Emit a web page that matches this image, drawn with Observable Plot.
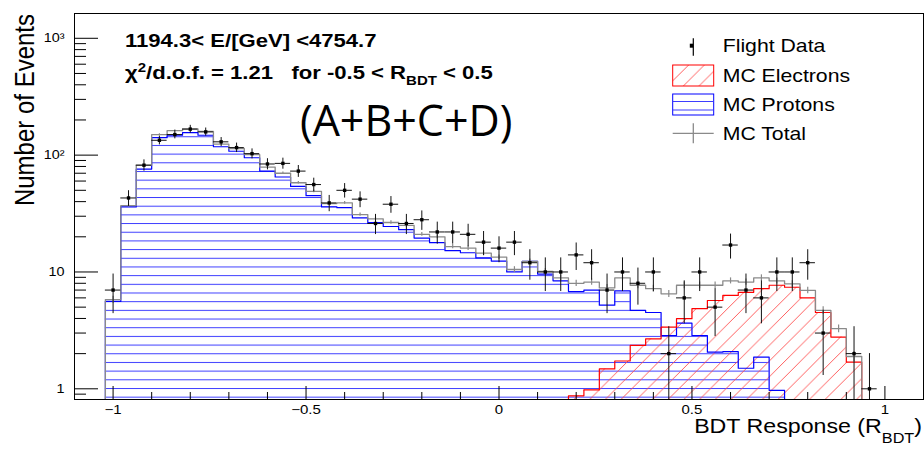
<!DOCTYPE html>
<html>
<head>
<meta charset="utf-8">
<script src="https://cdn.jsdelivr.net/npm/d3@7"></script>
<script src="https://cdn.jsdelivr.net/npm/@observablehq/plot@0.6"></script>
<style>
  body { margin: 0; background: #fff; }
  #chart { position: relative; width: 924px; height: 450px; }
</style>
</head>
<body>
<svg width="0" height="0" style="position:absolute">
  <defs>
    <pattern id="hatchBlue" patternUnits="userSpaceOnUse" width="20" height="8.68" patternTransform="translate(0,6.06)">
      <line x1="0" y1="0.5" x2="20" y2="0.5" stroke="#3d3dff" stroke-width="1"/>
    </pattern>
    <pattern id="hatchRed" patternUnits="userSpaceOnUse" width="15.7" height="15.7">
      <path d="M0,15.7 L15.7,0 M-2,2 L2,-2 M13.7,17.7 L17.7,13.7" stroke="#ff4d4d" stroke-width="0.9" fill="none"/>
    </pattern>
  </defs>
</svg>
<div id="chart"></div>
<script>
// ---------------- data ----------------
const binCenters = [-1.00,-0.96,-0.92,-0.88,-0.84,-0.80,-0.76,-0.72,-0.68,-0.64,
                    -0.60,-0.56,-0.52,-0.48,-0.44,-0.40,-0.36,-0.32,-0.28,-0.24,
                    -0.20,-0.16,-0.12,-0.08,-0.04, 0.00, 0.04, 0.08, 0.12, 0.16,
                     0.20, 0.24, 0.28, 0.32, 0.36, 0.40, 0.44, 0.48, 0.52, 0.56,
                     0.60, 0.64, 0.68, 0.72, 0.76, 0.80, 0.84, 0.88, 0.92, 0.96];
const binWidth = 0.04;

const mcProtons = [5.6,36,76,141,148,156,148,118,108,95,
                   73,65,54,45,36,35.5,29,26.5,24.5,23,
                   19.5,17.8,15.2,14.6,13.2,12.4,10.0,12.3,9.6,8.4,
                   6.8,7.0,5.2,6.9,4.7,4.5,2.86,3.65,2.86,2.06,
                   2.08,1.5,1.87,0.97,0.3,0.3,0.3,0.3,0.3,0];

const mcElectrons = [0.3,0.3,0.3,0.3,0.3,0.3,0.3,0.3,0.3,0.3,
                     0.3,0.3,0.3,0.3,0.3,0.3,0.3,0.3,0.3,0.3,
                     0.3,0.3,0.3,0.3,0.3,0.3,0.3,0.3,0.3,0.3,
                     0.87,0.98,1.48,1.73,2.35,2.68,3.37,3.98,4.85,5.7,
                     6.3,6.7,7.2,7.7,7.4,6.0,4.5,2.77,1.69,0];

const mcTotal = [5.8,37,82,150,162,168,160,124,114,101,
                 79,70,58,49,38.5,39,31,28.5,26.5,25,
                 21,20,16.5,16,14.5,13.4,10.5,12.3,10.1,8.9,
                 8.0,8.2,7.3,8.9,7.7,7.2,6.5,7.7,7.7,7.7,
                 8.4,8.2,8.9,8.4,7.9,6.95,4.7,3.27,1.89,0];

const mcTotalErr = [0.4,1.0,1.6,2.4,2.5,2.6,2.5,2.2,2.1,2.0,
                    1.7,1.6,1.4,1.3,1.1,1.1,1.0,0.9,0.9,0.9,
                    0.8,0.8,0.7,0.7,0.7,0.6,0.6,0.6,0.6,0.5,
                    0.5,0.5,0.5,0.5,0.5,0.5,0.45,0.5,0.5,0.5,
                    0.5,0.5,0.55,0.5,0.5,0.45,0.35,0.25,0.2,0];

const flightData = [7,43,82,134,150,167,158,130,116,103,
                    84,85,73,56,39,50,42,26,38,26,
                    28,22,22,21,18,16,18,12,10,10,
                    14,12,7,10,8,10,2,6,10,5,
                    17,7,6,10,10,12,3,0,2,1];

const flightErr = [2.6,6.6,9.1,11.6,12.2,12.9,12.6,11.4,10.8,10.1,
                   9.2,9.2,8.5,7.5,6.2,7.1,6.5,5.1,6.2,5.1,
                   5.3,4.7,4.7,4.6,4.2,4.0,4.2,3.5,3.2,3.2,
                   3.7,3.5,2.6,3.2,2.8,3.2,1.4,2.4,3.2,2.2,
                   4.1,2.6,2.4,3.2,3.2,3.5,1.7,0,1.4,1.0];

const xMajorTicks = [-1, -0.5, 0, 0.5, 1];
const xTickLabels = ["\u22121", "\u22120.5", "0", "0.5", "1"];
const xMinorTicks = [-0.9,-0.8,-0.7,-0.6,-0.4,-0.3,-0.2,-0.1,0.1,0.2,0.3,0.4,0.6,0.7,0.8,0.9];
const yMajorTicks = [1, 10, 100, 1000];
const yTickLabels = ["1", "10", "10\u00B2", "10\u00B3"];
const yMinorTicks = [0.9,2,3,4,5,6,7,8,9,20,30,40,50,60,70,80,90,200,300,400,500,600,700,800,900];

const legendLabels = ["Flight Data", "MC Electrons", "MC Protons", "MC Total"];
const energyLabel = "1194.3< E/[GeV] <4754.7";
const groupLabel = "(A+B+C+D)";

// ---------------- layout ----------------
const W = 924, H = 450, mL = 74, mR = 1, mT = 13, mB = 51;
const plotW = W - mL - mR, plotH = H - mT - mB;
const yMin = 0.81, yMax = 1630;
const FONT = "'Liberation Sans', Arial, Helvetica, sans-serif";

function steps(vals) {
  const idx = vals.map((v, i) => (v > 0 ? i : -1)).filter(i => i >= 0);
  const first = idx[0], last = idx[idx.length - 1];
  const pts = [{x: binCenters[first] - binWidth / 2, y: yMin}];
  for (let i = first; i <= last; i++) {
    const v = Math.max(vals[i], yMin);
    pts.push({x: binCenters[i] - binWidth / 2, y: v}, {x: binCenters[i] + binWidth / 2, y: v});
  }
  pts.push({x: binCenters[last] + binWidth / 2, y: yMin});
  return pts;
}

const protonSteps = steps(mcProtons);
const electronSteps = steps(mcElectrons);
const totalSteps = steps(mcTotal);
const totalPts = binCenters.map((c, i) => ({x: c, v: mcTotal[i], e: mcTotalErr[i]})).filter(d => d.v > 0);
const dataPts = binCenters.map((c, i) => ({x: c, n: flightData[i], e: flightErr[i]})).filter(d => d.n > 0);

const svg = Plot.plot({
  width: W, height: H,
  marginLeft: mL, marginRight: mR, marginTop: mT, marginBottom: mB,
  style: {fontFamily: FONT, fontSize: "12.5px", background: "#fff", color: "#000"},
  x: {domain: [-1.1, 1.1]},
  y: {type: "log", domain: [yMin, yMax]},
  marks: [
    Plot.frame({stroke: "#000", strokeWidth: 1}),
    Plot.areaY(protonSteps, {x: "x", y1: yMin, y2: "y", fill: "url(#hatchBlue)", clip: true}),
    Plot.areaY(electronSteps, {x: "x", y1: yMin, y2: "y", fill: "url(#hatchRed)", clip: true}),
    Plot.line(protonSteps, {x: "x", y: "y", stroke: "#0000ff", strokeWidth: 1.2, clip: true}),
    Plot.line(electronSteps, {x: "x", y: "y", stroke: "#ff0000", strokeWidth: 1.2, clip: true}),
    Plot.line(totalSteps, {x: "x", y: "y", stroke: "#8a8a8a", strokeWidth: 1.3, clip: true}),
    Plot.ruleX(totalPts, {x: "x", y1: d => d.v - d.e, y2: d => d.v + d.e, stroke: "#8a8a8a", strokeWidth: 1.2, clip: true}),
    Plot.ruleX(dataPts, {x: "x", y1: d => Math.max(d.n - d.e, yMin * 0.5), y2: d => d.n + d.e, stroke: "#111", strokeWidth: 1, clip: true}),
    Plot.ruleY(dataPts, {y: "n", x1: d => d.x - binWidth / 2, x2: d => d.x + binWidth / 2, stroke: "#111", strokeWidth: 1, clip: true}),
    Plot.dot(dataPts, {x: "x", y: "n", symbol: "square", r: 1.9, fill: "#000", stroke: "none"}),
    Plot.tickX(xMajorTicks, {x: d => d, insetTop: plotH - 13, stroke: "#000"}),
    Plot.tickX(xMinorTicks, {x: d => d, insetTop: plotH - 7, stroke: "#000"}),
    Plot.tickY(yMajorTicks, {y: d => d, insetRight: plotW - 24, stroke: "#000"}),
    Plot.tickY(yMinorTicks, {y: d => d, insetRight: plotW - 12, stroke: "#000"}),
    Plot.axisX({ticks: xMajorTicks, tickFormat: d => xTickLabels[xMajorTicks.indexOf(d)], tickSize: 0, tickPadding: 6, label: null, fontSize: 12.5}),
    Plot.axisY({ticks: yMajorTicks, tickFormat: d => yTickLabels[yMajorTicks.indexOf(d)], tickSize: 0, tickPadding: 10, label: null, fontSize: 12})
  ]
});

document.getElementById("chart").appendChild(svg);

// stretch tick labels horizontally like the reference
svg.querySelectorAll('g[aria-label$="tick label"] text').forEach(t => {
  const x = parseFloat(t.getAttribute("x")) || 0;
  const tr = t.getAttribute("transform") || "";
  t.setAttribute("transform", `${tr} translate(${x},0) scale(1.2,1) translate(${-x},0)`);
});

const s = d3.select(svg);
const ann = s.append("g").attr("font-family", FONT).attr("fill", "#000").attr("text-anchor", "start");

// axis titles
ann.append("text")
  .attr("transform", "translate(33.5,14) scale(1.15,1) rotate(-90)")
  .attr("text-anchor", "end").attr("font-size", 24)
  .text("Number of Events");

const xt = ann.append("text")
  .attr("transform", "translate(922,433) scale(1.16,1)")
  .attr("text-anchor", "end").attr("font-size", 20);
xt.append("tspan").text("BDT Response (R");
xt.append("tspan").attr("dy", 10).attr("font-size", 14).text("BDT");
xt.append("tspan").attr("dy", -10).text(")");

// annotation lines
ann.append("text")
  .attr("transform", "translate(125,47) scale(1.2,1)")
  .attr("text-anchor", "start")
  .attr("font-weight", "bold").attr("font-size", 18.4)
  .text(energyLabel);

const l2 = ann.append("text")
  .attr("transform", "translate(125,79) scale(1.2,1)")
  .attr("text-anchor", "start")
  .attr("font-weight", "bold").attr("font-size", 18.4)
  .style("white-space", "pre");
l2.append("tspan").text("\u03C7");
l2.append("tspan").attr("dy", -7).attr("font-size", 12.5).text("2");
l2.append("tspan").attr("dy", 7).text("/d.o.f. = 1.21   for -0.5 < R");
l2.append("tspan").attr("dy", 6).attr("font-size", 12.5).text("BDT");
l2.append("tspan").attr("dy", -6).text(" < 0.5");

ann.append("text")
  .attr("x", 300).attr("y", 136)
  .attr("text-anchor", "start")
  .attr("font-family", "'Open Sans', sans-serif").attr("font-size", 43)
  .text(groupLabel);

// legend
const lg = s.append("g").attr("font-family", FONT).attr("text-anchor", "start");
const rowY = [45.7, 75, 104, 133.3];
const symX0 = 672.7, symX1 = 713.7, symXc = 693.3;
// Flight Data
lg.append("line").attr("x1", symXc).attr("x2", symXc).attr("y1", rowY[0] - 7.5).attr("y2", rowY[0] + 10).attr("stroke", "#000").attr("stroke-width", 1.2);
lg.append("rect").attr("x", symXc - 3.5).attr("y", rowY[0] - 2).attr("width", 3.5).attr("height", 4).attr("fill", "#000");
// MC Electrons
lg.append("rect").attr("x", symX0).attr("y", rowY[1] - 10).attr("width", symX1 - symX0).attr("height", 21)
  .attr("fill", "url(#hatchRed)").attr("stroke", "#ff0000").attr("stroke-width", 1);
// MC Protons
lg.append("rect").attr("x", symX0).attr("y", rowY[2] - 10).attr("width", symX1 - symX0).attr("height", 21)
  .attr("fill", "#fff").attr("stroke", "#0000ff").attr("stroke-width", 1);
[rowY[2] - 2.5, rowY[2] + 6].forEach(yy => lg.append("line").attr("x1", symX0).attr("x2", symX1).attr("y1", yy).attr("y2", yy).attr("stroke", "#3d3dff"));
// MC Total
lg.append("line").attr("x1", symX0).attr("x2", symX1).attr("y1", rowY[3]).attr("y2", rowY[3]).attr("stroke", "#8a8a8a").attr("stroke-width", 1.3);
lg.append("line").attr("x1", symXc).attr("x2", symXc).attr("y1", rowY[3] - 10).attr("y2", rowY[3] + 10).attr("stroke", "#8a8a8a").attr("stroke-width", 1.3);

legendLabels.forEach((name, i) => {
  lg.append("text")
    .attr("transform", `translate(722.7,${rowY[i] + 6.5}) scale(1.18,1)`)
    .attr("text-anchor", "start")
    .attr("font-size", 18).attr("fill", "#000")
    .text(name);
});
</script>
</body>
</html>
